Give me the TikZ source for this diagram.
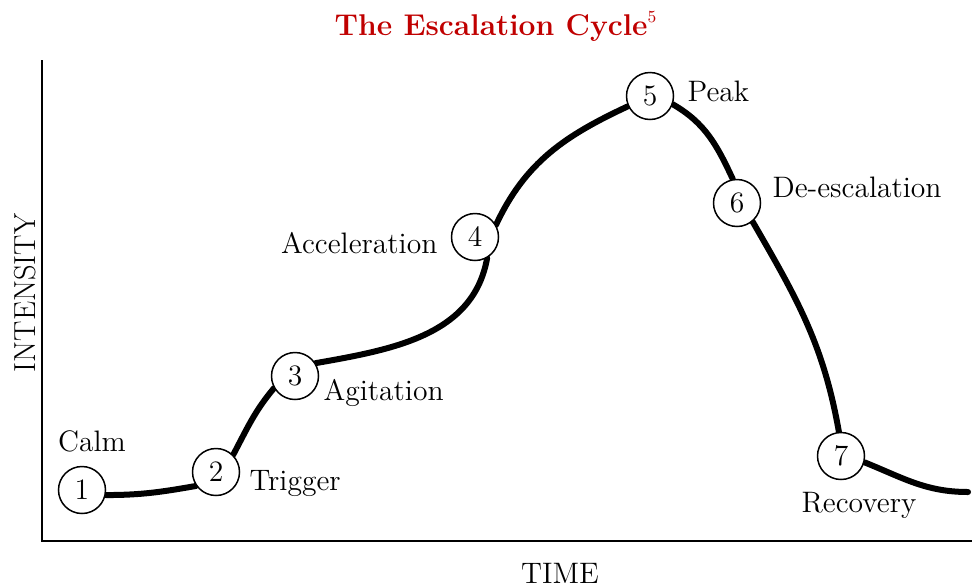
\documentclass[tikz,border=0pt]{standalone}
\usetikzlibrary{positioning,backgrounds}
\definecolor{titlered}{RGB}{192,0,0}
\tikzset{
  stage/.style={draw, circle, line width=0.75pt, minimum size=23.5pt, inner sep=0pt, fill=white},
  phase/.style={inner sep=0pt, anchor=base west},
  curve/.style={line width=3pt, line cap=round},
  axis/.style={line width=1pt}
}

\begin{document}
\begin{tikzpicture}[x=0.5pt, y=0.5pt, font=\fontsize{14.8}{17}\selectfont]
  \useasboundingbox (0,0) rectangle (972,586);

  \node [anchor=base, inner sep=0pt, text=titlered, font=\fontsize{15}{18}\selectfont\bfseries] (title) at (495.5,551) {The Escalation Cycle\raisebox{6.5pt}{\fontsize{8.5}{9}\selectfont\mdseries 5}};

  \coordinate (ytop) at (42,526);
  \coordinate (origin) at (42,45);
  \coordinate (xend) at (972,45);
  \draw [axis] (ytop) -- (origin) -- (xend);
  \node [rotate=90, inner sep=0pt, font=\fontsize{15.2}{18}\selectfont] (ylabel) at (25,293) {INTENSITY};
  \node [anchor=base, inner sep=0pt] (xlabel) at (560,3) {TIME};

  \node [stage] (c1) at (82,96) {1};
  \node [stage] (c2) at (216,114) {2};
  \node [stage] (c3) at (295,210) {3};
  \node [stage] (c4) at (475,349) {4};
  \node [stage] (c5) at (650,490) {5};
  \node [stage] (c6) at (737,383) {6};
  \node [stage] (c7) at (841,130) {7};
  \coordinate (tail) at (968,94);

  \node [phase, anchor=base] (calm) at ([shift={(5pt,7pt)}]c1.north) {Calm};
  \node [phase] (trigger) at ([shift={(4.5pt,-9pt)}]c2.east) {Trigger};
  \node [phase] (agitation) at ([shift={(2pt,-12pt)}]c3.east) {Agitation};
  \node [phase, anchor=base east] (acceleration) at ([shift={(-6.5pt,-8pt)}]c4.west) {Acceleration};
  \node [phase] (peak) at ([shift={(6.5pt,-2.5pt)}]c5.east) {Peak};
  \node [phase] (deesc) at ([shift={(5.5pt,3pt)}]c6.east) {De-escalation};
  \node [phase, anchor=base] (recovery) at ([shift={(9pt,-16pt)}]c7.south) {Recovery};

  \begin{scope}[on background layer]
    \draw [curve] (c1.-12) to[out=0, in=190] (c2.215);
    \draw [curve] (c2.45) to[out=62, in=230] (c3.210);
    \draw [curve] (c3.32) to[out=10, in=-100] (c4.-60);
    \draw [curve] (c4.30) to[out=65, in=205] (c5.205);
    \draw [curve] (c5.-20) to[out=-30, in=115] (c6.100);
    \draw [curve] (c6.-50) to[out=-60, in=100] (c7.95);
    \draw [curve] (c7.-15) to[out=-22, in=180] (tail);
  \end{scope}
\end{tikzpicture}
\end{document}
